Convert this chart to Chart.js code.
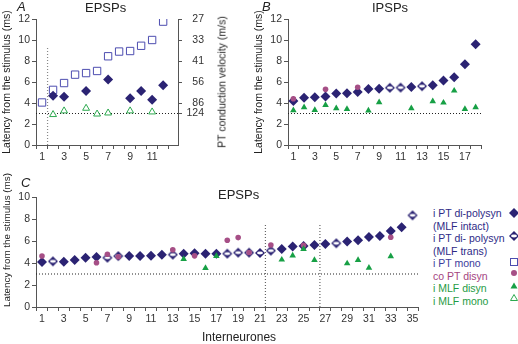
<!DOCTYPE html>
<html>
<head>
<meta charset="utf-8">
<script src="https://cdn.jsdelivr.net/npm/chart.js@4.4.1/dist/chart.umd.min.js"></script>
<style>
  html, body { margin:0; padding:0; background:#fff; }
  body { width:518px; height:344px; position:relative; overflow:hidden; font-family:'Liberation Sans', Arial, sans-serif; }
  canvas { position:absolute; }
  .t { position:absolute; white-space:nowrap; line-height:13px; color:#222; }
  .lg { position:absolute; left:433px; top:207px; font-size:10.5px; line-height:12.5px; white-space:nowrap; }
  .mk { position:absolute; }
</style>
</head>
<body>
<canvas id="cA" width="240" height="170" style="left:0;top:0"></canvas>
<canvas id="cB" width="266" height="170" style="left:252px;top:0"></canvas>
<canvas id="cC" width="430" height="174" style="left:0;top:170px"></canvas>

<div class="t" style="left:17px;top:0;font-size:13px;font-style:italic">A</div>
<div class="t" style="left:85px;top:1px;font-size:13px">EPSPs</div>
<div class="t" style="left:262px;top:0;font-size:13px;font-style:italic">B</div>
<div class="t" style="left:372px;top:1px;font-size:13px">IPSPs</div>
<div class="t" style="left:21px;top:176px;font-size:13px;font-style:italic">C</div>
<div class="t" style="left:218px;top:188px;font-size:13px">EPSPs</div>
<div class="t" style="left:202px;top:331px;font-size:12px">Interneurones</div>
<div class="t" style="left:222px;top:82px;font-size:10.5px;transform:translate(-50%,-50%) rotate(-90deg)">PT conduction velocity (m/s)</div>

<div class="lg">
  <div style="color:#2e2a86">i PT di-polysyn</div>
  <div style="color:#2e2a86">(MLF intact)</div>
  <div style="color:#2e2a86">i PT di- polysyn</div>
  <div style="color:#2e2a86">(MLF trans)</div>
  <div style="color:#3b3b9c">i PT mono</div>
  <div style="color:#a4457f">co PT disyn</div>
  <div style="color:#1f9b45">i MLF disyn</div>
  <div style="color:#1f9b45">i MLF mono</div>
</div>
<svg class="mk" style="left:508px;top:207px" width="12" height="12"><polygon points="6,1 11,6 6,11 1,6" fill="#2b2373"/></svg>
<svg class="mk" style="left:508px;top:230px" width="12" height="12"><polygon points="6,1 11,6 6,11 1,6" fill="#2b2373"/><ellipse cx="6" cy="6" rx="3" ry="1.4" fill="#fff"/></svg>
<svg class="mk" style="left:508px;top:256px" width="12" height="12"><rect x="2.5" y="2.5" width="7" height="7" fill="none" stroke="#4d4db0" stroke-width="1"/></svg>
<svg class="mk" style="left:508px;top:267px" width="12" height="12"><circle cx="6" cy="6" r="3" fill="#a64f86"/></svg>
<svg class="mk" style="left:508px;top:280px" width="12" height="12"><polygon points="6,2.5 9.5,8.5 2.5,8.5" fill="#17a045"/></svg>
<svg class="mk" style="left:508px;top:292px" width="12" height="12"><polygon points="6,2.5 9.5,8.5 2.5,8.5" fill="none" stroke="#2da94f" stroke-width="1"/></svg>

<script>
// ---------------- DATA ----------------
// Panel A (EPSPs)
const neuronsA      = [1, 2, 3, 4, 5, 6, 7, 8, 9, 10, 11, 12];
const aPtDiPoly     = [null, 4.7, 4.6, null, 5.15, null, 6.25, null, 4.45, 5.15, 4.3, 5.7];
const aPtMono       = [4.05, 5.25, 5.9, 6.7, 6.85, 7.05, 8.45, 8.9, 8.95, 9.45, 10.0, 11.75];
const aMlfMono      = [null, 2.9, 3.25, null, 3.5, 2.95, 3.05, null, 3.25, null, 3.15, null];
const velocityLatency = [12, 10, 8, 6, 4, 3];
const velocityLabels  = ['27', '33', '41', '56', '86', '124'];

// Panel B (IPSPs)
const neuronsB      = [1, 2, 3, 4, 5, 6, 7, 8, 9, 10, 11, 12, 13, 14, 15, 16, 17, 18];
const bPtDiPoly     = [4.2, 4.5, 4.55, 4.63, 4.9, 4.93, 5.05, 5.33, 5.36, null, null, 5.52, null, 5.7, 6.15, 6.45, 7.68, 9.6];
const bPtDiPolyTr   = [null, null, null, null, null, null, null, null, null, 5.45, 5.47, null, 5.6, null, null, null, null, null];
const bCoPtDisyn    = [4.4, null, null, 5.3, null, null, 5.5, null, null, null, null, null, null, null, null, null, null, null];
const bMlfDisyn     = [3.3, 3.59, 3.33, 3.81, 3.49, 3.43, null, 3.27, 4.06, null, null, 3.49, null, 4.16, 4.03, 5.17, 3.43, 3.59];

// Panel C (EPSPs)
const neuronsC      = [1,2,3,4,5,6,7,8,9,10,11,12,13,14,15,16,17,18,19,20,21,22,23,24,25,26,27,28,29,30,31,32,33,34,35];
const cPtDiPoly     = [4.09,null,4.12,4.27,4.48,4.54,null,null,4.63,4.63,4.66,4.76,null,4.85,4.88,4.85,4.85,null,null,null,null,null,5.27,5.5,5.55,5.64,5.73,null,5.95,6.07,6.37,6.46,6.92,7.24,null];
const cPtDiPolyTr   = [null,4.15,null,null,null,null,4.48,4.63,null,null,null,null,4.76,null,null,null,null,4.85,4.94,4.94,4.91,5.12,null,null,null,null,null,5.79,null,null,null,null,null,null,8.33];
const cCoPtDisyn    = [4.63,null,null,null,null,4.02,4.79,4.57,null,null,null,null,5.21,null,4.65,null,null,6.07,6.31,4.95,null,5.64,null,null,5.61,null,null,null,null,null,null,null,6.34,null,null];
const cMlfDisyn     = [null,null,null,null,null,null,null,null,null,null,null,null,null,4.36,null,3.54,4.63,null,null,null,null,null,4.3,4.67,5.27,4.27,null,null,3.96,4.27,3.57,null,4.6,null,null];

// Reference lines
const refLatency = 3;
const dividerA = [1.5];   const dividerTopA = 9.3;
const dividersC = [21.5, 26.5]; const dividerTopC = 7.5;
const yTicksAB = [0, 2, 4, 6, 8, 10, 12];
const yTicksC  = [0, 2, 4, 6, 8, 10];

// ---------------- STYLE ----------------
const C_DIA = '#2b2373', C_SQ = '#4d4db0', C_PINK = '#a64f86', C_GRN = '#17a045', C_GRN_O = '#2da94f';
const AXIS = '#555', TXT = '#333';

function pts(xs, ys) { return xs.map((x, i) => ({x: x, y: ys[i]})).filter(p => p.y != null); }

function makeTransDiamond(r, color) {
  const s = Math.ceil(2 * r) + 2;
  const c = document.createElement('canvas');
  c.width = s; c.height = s;
  const g = c.getContext('2d');
  const m = s / 2;
  g.fillStyle = color;
  g.beginPath(); g.moveTo(m - r, m); g.lineTo(m, m - r); g.lineTo(m + r, m); g.lineTo(m, m + r); g.closePath(); g.fill();
  g.fillStyle = '#fff';
  g.beginPath(); g.ellipse(m, m, r * 0.6, r * 0.28, 0, 0, 2 * Math.PI); g.fill();
  return c;
}
const transImg = makeTransDiamond(5, C_DIA);

function dsDia(xs, ys)   { return {data: pts(xs, ys), pointStyle: 'rectRot', pointRadius: 5, backgroundColor: C_DIA, borderColor: C_DIA, borderWidth: 0, order: 5}; }
function dsTrans(xs, ys) { return {data: pts(xs, ys), pointStyle: transImg, pointRadius: 5, order: 4}; }
function dsSq(xs, ys)    { return {data: pts(xs, ys), pointStyle: 'rect', pointRadius: 5.2, backgroundColor: '#fff', borderColor: C_SQ, borderWidth: 1, order: 6}; }
function dsPink(xs, ys)  { return {data: pts(xs, ys), pointStyle: 'circle', pointRadius: 2.8, backgroundColor: C_PINK, borderColor: C_PINK, borderWidth: 0, order: 2}; }
function dsGrn(xs, ys)   { return {data: pts(xs, ys), pointStyle: 'triangle', pointRadius: 3.8, backgroundColor: C_GRN, borderColor: C_GRN, borderWidth: 0, order: 1}; }
function dsGrnO(xs, ys)  { return {data: pts(xs, ys), pointStyle: 'triangle', pointRadius: 4, backgroundColor: '#fff', borderColor: C_GRN_O, borderWidth: 1, order: 1}; }
function dsLine(p, color) { return {data: p, showLine: true, pointRadius: 0, borderColor: color, borderWidth: 1.2, borderDash: [1, 2], fill: false, order: 10}; }

function xAxis(min, max, cats, h) {
  return {
    type: 'linear', min: min, max: max,
    afterBuildTicks: s => { s.ticks = cats.map(v => ({value: v})); },
    ticks: { autoSkip: false, maxRotation: 0, padding: 2, color: TXT, font: {size: 10.5, family: 'Liberation Sans'},
             callback: v => (v % 2 === 1 ? String(v) : '') },
    grid: { offset: true, drawOnChartArea: false, drawTicks: true, tickLength: 4, color: AXIS },
    border: { display: true, color: AXIS, width: 1 },
    afterFit: s => { s.height = h; }
  };
}
function yAxis(max, ticks, align, titleSize) {
  return {
    type: 'linear', min: 0, max: max,
    afterBuildTicks: s => { s.ticks = ticks.map(v => ({value: v})); },
    ticks: { autoSkip: false, padding: 2, color: TXT, font: {size: 10.5, family: 'Liberation Sans'} },
    grid: { drawOnChartArea: false, drawTicks: true, tickLength: 4, color: AXIS },
    border: { display: true, color: AXIS, width: 1 },
    title: { display: true, text: 'Latency from the stimulus (ms)', align: align, color: '#222',
             font: {size: titleSize, family: 'Liberation Sans'}, padding: {top: 1, bottom: 0} },
    afterFit: s => { s.width = 36; }
  };
}
const common = {
  responsive: false, animation: false, devicePixelRatio: 1, events: [],
  plugins: { legend: { display: false }, tooltip: { enabled: false } }
};

// ---------------- PANEL A ----------------
const xMinA = 0.45, xMaxA = 13.35;
new Chart(document.getElementById('cA'), {
  type: 'scatter',
  data: { datasets: [
    dsLine([{x: xMinA, y: refLatency}, {x: xMaxA, y: refLatency}], '#222'),
    dsLine([{x: dividerA[0], y: 0}, {x: dividerA[0], y: dividerTopA}], '#888'),
    dsSq(neuronsA, aPtMono),
    dsDia(neuronsA, aPtDiPoly),
    dsGrnO(neuronsA, aMlfMono)
  ]},
  options: Object.assign({}, common, {
    layout: { padding: { top: 19, right: 36, bottom: 0, left: 0 } },
    scales: {
      x: xAxis(xMinA, xMaxA, neuronsA, 25),
      y: yAxis(12, yTicksAB, 'center', 10.5),
      y2: {
        type: 'linear', position: 'right', min: 0, max: 12,
        afterBuildTicks: s => { s.ticks = velocityLatency.map(v => ({value: v})); },
        ticks: { autoSkip: false, crossAlign: 'far', padding: 3, color: TXT, font: {size: 10.5, family: 'Liberation Sans'},
                 callback: (v, i) => velocityLabels[i] },
        grid: { drawOnChartArea: false, drawTicks: true, tickLength: 4, color: AXIS },
        border: { display: true, color: AXIS, width: 1 },
        afterFit: s => { s.width = 26; }
      }
    }
  })
});

// ---------------- PANEL B ----------------
const xMinB = 0.5, xMaxB = 18.5;
new Chart(document.getElementById('cB'), {
  type: 'scatter',
  data: { datasets: [
    dsLine([{x: xMinB, y: refLatency}, {x: xMaxB, y: refLatency}], '#222'),
    dsDia(neuronsB, bPtDiPoly),
    dsTrans(neuronsB, bPtDiPolyTr),
    dsPink(neuronsB, bCoPtDisyn),
    dsGrn(neuronsB, bMlfDisyn)
  ]},
  options: Object.assign({}, common, {
    layout: { padding: { top: 19, right: 37, bottom: 0, left: 0 } },
    scales: { x: xAxis(xMinB, xMaxB, neuronsB, 25), y: yAxis(12, yTicksAB, 'center', 10.5) }
  })
});

// ---------------- PANEL C ----------------
const xMinC = 0.45, xMaxC = 35.5;
new Chart(document.getElementById('cC'), {
  type: 'scatter',
  data: { datasets: [
    dsLine([{x: xMinC, y: refLatency}, {x: xMaxC, y: refLatency}], '#222'),
    dsLine([{x: dividersC[0], y: 0}, {x: dividersC[0], y: dividerTopC}], '#666'),
    dsLine([{x: dividersC[1], y: 0}, {x: dividersC[1], y: dividerTopC}], '#666'),
    dsDia(neuronsC, cPtDiPoly),
    dsTrans(neuronsC, cPtDiPolyTr),
    dsPink(neuronsC, cCoPtDisyn),
    dsGrn(neuronsC, cMlfDisyn)
  ]},
  options: Object.assign({}, common, {
    layout: { padding: { top: 27, right: 12, bottom: 0, left: 0 } },
    scales: { x: xAxis(xMinC, xMaxC, neuronsC, 37), y: yAxis(10, yTicksC, 'start', 9.8) }
  })
});
</script>
</body>
</html>
